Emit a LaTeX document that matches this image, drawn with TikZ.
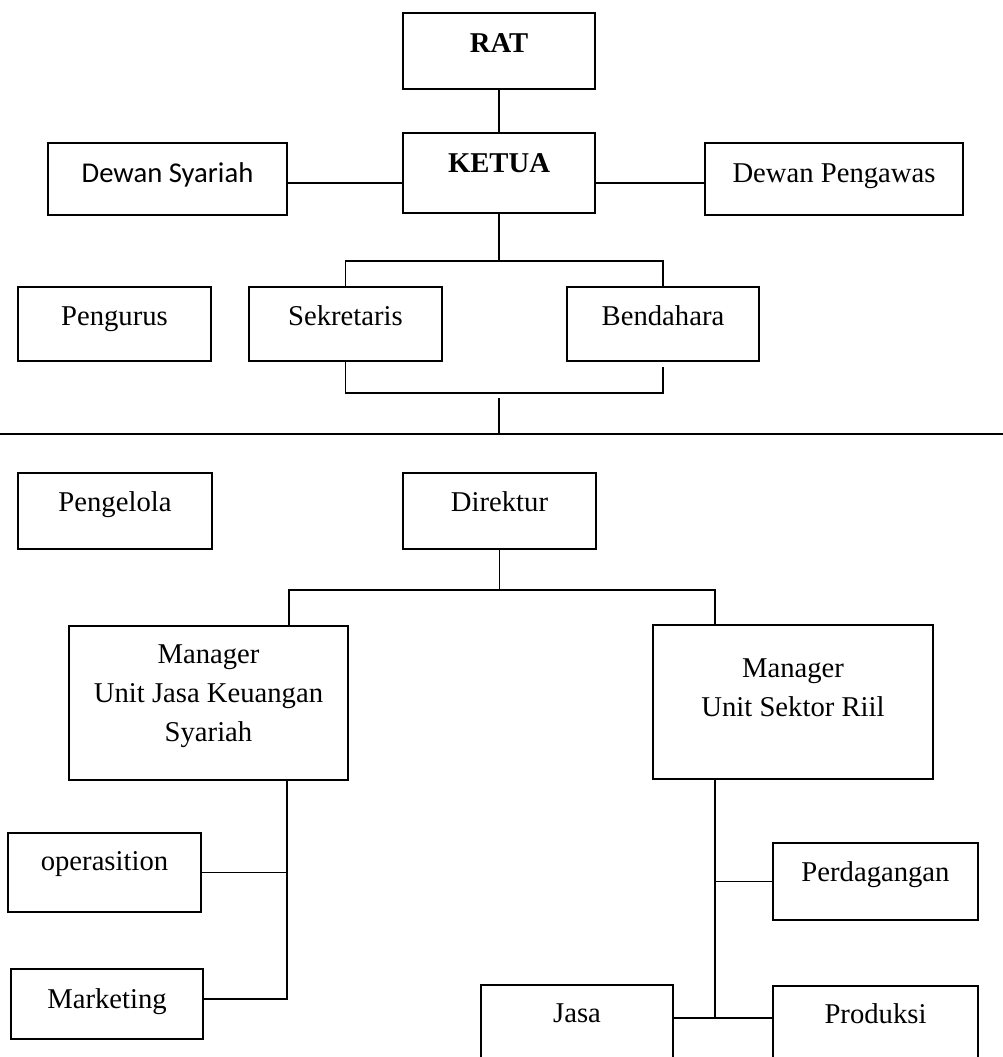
\documentclass[tikz,border=0pt]{standalone}
\usepackage{fontspec}
\setmainfont{Liberation Serif}
\newfontfamily\carlito{Carlito}

% a framed box given by its corners (name, x1, y1, x2, y2), in pixel units
\newcommand\orgbox[5]{%
  \pgfmathsetmacro\orgW{(#4-#2)*0.75}%
  \pgfmathsetmacro\orgH{(#5-#3)*0.75}%
  \node[box, minimum width=\orgW pt, minimum height=\orgH pt] (#1) at ({(#2+#4)/2},{(#3+#5)/2}) {};}

\begin{document}
\begin{tikzpicture}[x=0.75pt, y=-0.75pt,
  box/.style={draw, rectangle, line width=1.5pt, inner sep=0pt},
  wire/.style={line width=1pt},
  divider/.style={line width=1.5pt},
  lbl/.style={inner sep=0pt, anchor=base, font=\fontsize{21.5pt}{29.6pt}\selectfont},
]
\clip (0,0) rectangle (1003,1057);

% ---- boxes ----
\orgbox{rat}{403}{13}{595}{89}
\orgbox{ketua}{403}{133}{595}{213}
\orgbox{dsy}{48}{143}{287}{215}
\orgbox{dpw}{705}{143}{963}{215}
\orgbox{pgr}{18}{287}{211}{361}
\orgbox{sek}{249}{287}{442}{361}
\orgbox{ben}{567}{287}{759}{361}
\orgbox{pgl}{18}{473}{212}{549}
\orgbox{dir}{403}{473}{596}{549}
\orgbox{mj}{69}{626}{348}{780}
\orgbox{ms}{653}{625}{933}{779}
\orgbox{ops}{8}{833}{201}{912}
\orgbox{mkt}{11}{969}{203}{1039}
\orgbox{pdg}{773}{843}{978}{920}
\orgbox{jasa}{481}{985}{673}{1090}
\orgbox{prod}{773}{986}{978}{1090}

% ---- labels ----
\node[lbl] (rat-t) at (499,52) {\textbf{RAT}};
\node[lbl] (ketua-t) at (499,172) {\textbf{KETUA}};
\node[lbl] (dsy-t) at (167.5,182) {\carlito Dewan Syariah};
\node[lbl] (dpw-t) at (834,182) {Dewan Pengawas};
\node[lbl] (pgr-t) at (114.5,325) {Pengurus};
\node[lbl] (sek-t) at (345.5,325) {Sekretaris};
\node[lbl] (ben-t) at (663,325) {Bendahara};
\node[lbl] (pgl-t) at (115,511) {Pengelola};
\node[lbl] (dir-t) at (499.5,511) {Direktur};
\node[lbl] (mj-t) at (208.5,663) {\parbox[t]{300pt}{\centering Manager\\Unit Jasa Keuangan\\Syariah}};
\node[lbl] (ms-t) at (793,677) {\parbox[t]{300pt}{\centering Manager\\Unit Sektor Riil}};
\node[lbl] (ops-t) at (104.5,870) {operasition};
\node[lbl] (mkt-t) at (107,1008) {Marketing};
\node[lbl] (pdg-t) at (875.5,881) {Perdagangan};
\node[lbl] (jasa-t) at (577,1022) {Jasa};
\node[lbl] (prod-t) at (875.5,1023) {Produksi};

% ---- helper coordinates ----
\coordinate (hy) at (0,183);
\coordinate (tb) at (0,261);
\coordinate (bb) at (0,393);
\coordinate (stemtop) at (499,398);
\coordinate (div) at (0,434);
\coordinate (divR) at (1003,434);
\coordinate (dl) at (289,590);
\coordinate (dr) at (715,590);
\coordinate (tl) at (287,999);
\coordinate (tr) at (715,1018);

% ---- board ----
\draw[wire] (rat.south) -- (ketua.north);
\draw[wire] (dsy.east |- hy) -- (ketua.west |- hy);
\draw[wire] (ketua.east |- hy) -- (dpw.west |- hy);
\draw[wire] (ketua.south) -- (ketua.south |- tb);
\draw[wire] (sek.north) -- (sek.north |- tb) -- (ben.north |- tb) -- (ben.north);
\draw[wire] (sek.south) -- (sek.south |- bb) -- (ben.south |- bb) -- ([yshift=-3.75pt]ben.south);
\draw[wire] (stemtop) -- (stemtop |- div);
\draw[divider] (div) -- (divR);

% ---- management ----
\draw[wire] (dir.south) -- (dir.south |- dl);
\draw[wire] (mj.north -| dl) -- (dl) -- (dr) -- (ms.north -| dr);
\draw[wire] (mj.south -| tl) -- (tl) -- (mkt.east |- tl);
\draw[wire] (ops.east) -- (ops.east -| tl);
\draw[wire] (ms.south -| tr) -- (tr);
\draw[wire] (pdg.west) -- (pdg.west -| tr);
\draw[wire] (jasa.east |- tr) -- (prod.west |- tr);
\end{tikzpicture}
\end{document}
